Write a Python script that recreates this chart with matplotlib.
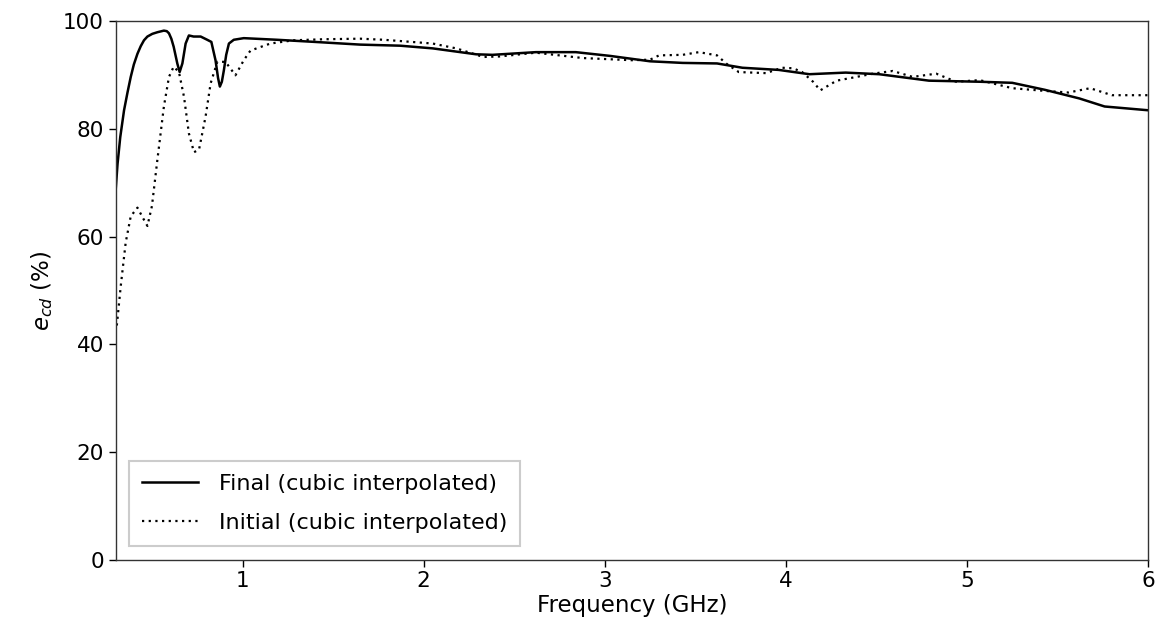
import matplotlib
matplotlib.use("Agg")
import matplotlib.pyplot as plt

plt.rcParams["font.family"] = ["DejaVu Sans"]
plt.rcParams["mathtext.fontset"] = "dejavusans"

# Final design, cubic-interpolated efficiency (%)
freq_final = [0.30, 0.31, 0.325, 0.346, 0.365, 0.383, 0.40, 0.42, 0.438, 0.456, 0.475,
              0.502, 0.53, 0.566, 0.582, 0.594, 0.607, 0.62, 0.64, 0.653, 0.668,
              0.686, 0.704, 0.73, 0.769, 0.805, 0.828, 0.851, 0.865, 0.875, 0.886,
              0.897, 0.91, 0.925, 0.952, 1.007, 1.19, 1.40, 1.65, 1.87, 2.05,
              2.29, 2.38, 2.62, 2.84, 3.03, 3.25, 3.43, 3.62, 3.76, 3.96, 4.13,
              4.33, 4.515, 4.79, 5.07, 5.25, 5.43, 5.62, 5.76, 6.00]
eff_final = [68.8, 73.5, 78.5, 83.5, 86.8, 89.7, 92.0, 94.0, 95.4, 96.5, 97.2,
             97.7, 98.0, 98.3, 98.2, 97.8, 96.8, 95.3, 92.2, 90.6, 92.2,
             95.9, 97.4, 97.2, 97.2, 96.6, 96.2, 92.8, 89.5, 87.9, 88.8,
             90.9, 93.8, 95.9, 96.6, 96.9, 96.6, 96.2, 95.7, 95.5, 95.0,
             93.9, 93.8, 94.3, 94.3, 93.6, 92.6, 92.3, 92.2, 91.4, 91.0, 90.2,
             90.5, 90.2, 89.0, 88.8, 88.6, 87.3, 85.7, 84.2, 83.5]

# Initial design, cubic-interpolated efficiency (%)
freq_init = [0.306, 0.328, 0.355, 0.383, 0.42, 0.45, 0.475, 0.50, 0.53, 0.566, 0.594,
             0.62, 0.649, 0.677, 0.704, 0.732, 0.76, 0.796, 0.824, 0.861, 0.906,
             0.961, 1.007, 1.044, 1.154, 1.28, 1.45, 1.65, 1.78, 2.05, 2.18, 2.33,
             2.42, 2.62, 2.88, 3.15, 3.25, 3.30, 3.43, 3.52, 3.62, 3.67, 3.74,
             3.89, 3.98, 4.04, 4.09, 4.15, 4.19, 4.28, 4.39, 4.48, 4.59, 4.70,
             4.83, 4.94, 5.07, 5.25, 5.43, 5.56, 5.68, 5.80, 6.00]
eff_init = [43.5, 50.9, 58.9, 63.8, 65.4, 63.5, 62.0, 65.7, 74.3, 84.2, 89.7,
            91.6, 90.6, 86.0, 79.2, 75.7, 76.2, 82.3, 88.5, 92.5, 92.5,
            90.0, 92.8, 94.6, 95.9, 96.5, 96.7, 96.8, 96.6, 95.9, 95.0, 93.4,
            93.5, 94.2, 93.2, 92.8, 92.9, 93.7, 93.8, 94.3, 93.7, 92.2, 90.6,
            90.4, 91.4, 91.3, 90.6, 88.8, 87.2, 89.0, 89.7, 90.3, 90.8, 89.7,
            90.3, 88.8, 89.1, 87.6, 87.1, 86.8, 87.6, 86.3, 86.3]

x_ticks = [1, 2, 3, 4, 5, 6]
y_ticks = [0, 20, 40, 60, 80, 100]

fig = plt.figure(figsize=(11.63, 6.41), dpi=100)
ax = fig.add_axes([0.0995, 0.127, 0.8877, 0.8395])

ax.plot(freq_final, eff_final, color="black", lw=1.8, linestyle="-",
        label="Final (cubic interpolated)")
ax.plot(freq_init, eff_init, color="black", lw=1.6, linestyle=(0, (1, 2.0)),
        label="Initial (cubic interpolated)")

ax.set_xlim(0.3, 6)
ax.set_ylim(0, 100)
ax.set_xticks(x_ticks)
ax.set_yticks(y_ticks)
ax.tick_params(labelsize=15.5, length=5, width=1)
for s in ax.spines.values():
    s.set_linewidth(1.0)
    s.set_color("#333333")

ax.set_xlabel("Frequency (GHz)", fontsize=16.5, labelpad=2)
ax.set_ylabel(r"$e_{cd}$ (%)", fontsize=16.5, labelpad=6)

leg = ax.legend(loc="lower left", fontsize=16.0, fancybox=False, framealpha=1,
                edgecolor="#cccccc", handlelength=2.5, borderpad=0.58,
                borderaxespad=0.62, labelspacing=0.85, handletextpad=0.95)
leg.get_frame().set_linewidth(1.5)

fig.savefig("out.png", dpi=100)
